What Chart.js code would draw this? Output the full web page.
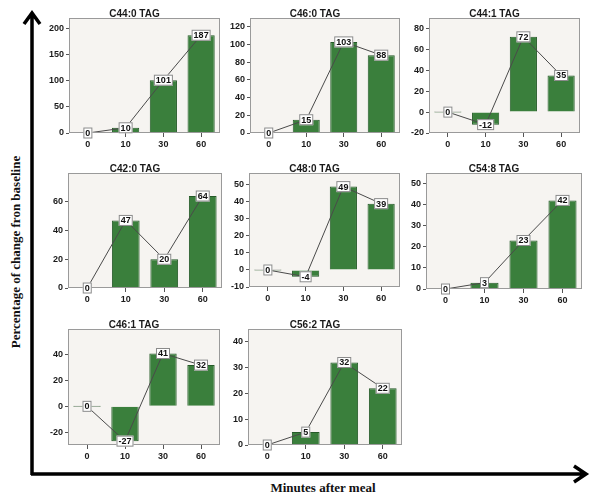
<!DOCTYPE html>
<html>
<head>
<meta charset="utf-8">
<script src="https://cdn.jsdelivr.net/npm/chart.js@4"></script>
<style>
  body { margin: 0; background: #fff; }
  #wrap { position: relative; width: 600px; height: 499px; overflow: hidden; }
  #wrap canvas { position: absolute; }
  #arrows { position: absolute; left: 0; top: 0; }
  .axisTitle { position: absolute; font-family: "Liberation Serif", "DejaVu Serif", serif; font-weight: bold; font-size: 13px; color: #111; white-space: nowrap; }
</style>
</head>
<body>
<div id="wrap">
  <svg id="arrows" width="600" height="499">
    <path d="M32 475 L32 14 M24 24 L32 13 L40 24" fill="none" stroke="#000" stroke-width="3.5" stroke-linejoin="miter"/>
    <path d="M31 474 L585 474 M574 466 L586 474 L574 482" fill="none" stroke="#000" stroke-width="3.5" stroke-linejoin="miter"/>
  </svg>
  <div class="axisTitle" style="left:16px; top:252px; transform: translate(-50%, -50%) rotate(-90deg);">Percentage of change fron baseline</div>
  <div class="axisTitle" style="left:323px; top:488px; transform: translate(-50%, -50%);">Minutes after meal</div>
</div>
<script>
// x categories (minutes after meal)
const categories = ['0', '10', '30', '60'];

// panel titles
const titles = ['C44:0 TAG', 'C46:0 TAG', 'C44:1 TAG', 'C42:0 TAG', 'C48:0 TAG', 'C54:8 TAG', 'C46:1 TAG', 'C56:2 TAG'];

// % change from baseline, one array per TAG species
const c44_0 = [0, 10, 101, 187];
const c46_0 = [0, 15, 103, 88];
const c44_1 = [0, -12, 72, 35];
const c42_0 = [0, 47, 20, 64];
const c48_0 = [0, -4, 49, 39];
const c54_8 = [0, 3, 23, 42];
const c46_1 = [0, -27, 41, 32];
const c56_2 = [0, 5, 32, 22];

// y axis ranges and tick labels per panel
const yMins = [0, 0, -20, 0, -10, 0, -30, 0];
const yMaxs = [220, 130, 90, 80, 57, 55, 60, 45];
const yTicks = [
    [0, 50, 100, 150, 200],
    [0, 20, 40, 60, 80, 100, 120],
    [-20, 0, 20, 40, 60, 80],
    [0, 20, 40, 60],
    [-10, 0, 10, 20, 30, 40, 50],
    [0, 10, 20, 30, 40, 50],
    [-20, 0, 20, 40],
    [0, 10, 20, 30, 40]
];

const series = [c44_0, c46_0, c44_1, c42_0, c48_0, c54_8, c46_1, c56_2];

// plot boxes on the page: left, top, right, bottom
const boxes = [
    [69, 18, 220, 133],
    [250, 18, 400, 133],
    [429, 18, 580, 133],
    [68, 173, 222, 288],
    [249, 173, 400, 287],
    [426, 173, 582, 289],
    [68, 329, 220, 445],
    [248, 329, 402, 445]
];

const GREEN = '#3a7f3c';
const GREEN_EDGE = '#255a28';

// background, frame, title and boxed value labels
const panelDeco = {
    id: 'panelDeco',
    beforeDatasetsDraw(chart) {
        const { ctx, chartArea: a } = chart;
        ctx.save();
        ctx.fillStyle = '#f6f4f1';
        ctx.fillRect(a.left, a.top, a.right - a.left, a.bottom - a.top);
        ctx.restore();
    },
    afterDraw(chart, args, opts) {
        const { ctx, chartArea: a } = chart;
        ctx.save();
        ctx.strokeStyle = '#9a9a9a';
        ctx.lineWidth = 1;
        ctx.strokeRect(a.left + 0.5, a.top + 0.5, a.right - a.left - 1, a.bottom - a.top - 1);

        ctx.fillStyle = '#1a1a1a';
        ctx.font = 'bold 10px "Liberation Sans", Arial, sans-serif';
        ctx.textAlign = 'center';
        ctx.textBaseline = 'alphabetic';
        ctx.fillText(opts.title, (a.left + a.right) / 2 - 10, a.top - 1);

        const meta = chart.getDatasetMeta(1);
        const vals = chart.data.datasets[1].data;
        ctx.font = 'bold 9px "Liberation Sans", Arial, sans-serif';
        ctx.textBaseline = 'middle';
        meta.data.forEach((pt, i) => {
            const txt = String(vals[i]);
            const w = ctx.measureText(txt).width + 4;
            const h = 11;
            ctx.fillStyle = '#ffffff';
            ctx.fillRect(pt.x - w / 2, pt.y - h / 2, w, h);
            ctx.strokeStyle = '#8a8a8a';
            ctx.strokeRect(pt.x - w / 2 + 0.5, pt.y - h / 2 + 0.5, w - 1, h - 1);
            ctx.fillStyle = '#111';
            ctx.fillText(txt, pt.x, pt.y + 0.5);
        });
        ctx.restore();
    }
};

const wrap = document.getElementById('wrap');

series.forEach((values, p) => {
    const [L, T, R, B] = boxes[p];
    const canvas = document.createElement('canvas');
    const cw = R - L + 32, ch = B - T + 38;
    canvas.width = cw;
    canvas.height = ch;
    canvas.style.left = (L - 30) + 'px';
    canvas.style.top = (T - 18) + 'px';
    wrap.appendChild(canvas);

    const tickList = yTicks[p];
    new Chart(canvas.getContext('2d'), {
        type: 'bar',
        data: {
            labels: categories,
            datasets: [{
                type: 'bar',
                data: values,
                order: 1,
                backgroundColor: (c) => c.raw === 0 ? '#8d8d8d' : GREEN,
                borderColor: GREEN_EDGE,
                borderWidth: 1,
                minBarLength: 1,
                barPercentage: 0.72,
                categoryPercentage: 1
            }, {
                type: 'line',
                data: values,
                order: 0,
                borderColor: '#4a4a4a',
                borderWidth: 1,
                pointRadius: 0,
                tension: 0
            }]
        },
        options: {
            responsive: false,
            animation: false,
            devicePixelRatio: 1,
            layout: { padding: { top: 18, right: 2, left: 0, bottom: 0 } },
            plugins: {
                legend: { display: false },
                tooltip: { enabled: false },
                panelDeco: { title: titles[p] }
            },
            scales: {
                x: {
                    offset: true,
                    grid: { drawOnChartArea: false, offset: false, tickLength: 4, color: '#555' },
                    border: { display: false },
                    ticks: {
                        color: '#1a1a1a',
                        padding: 2,
                        font: { family: '"Liberation Sans", Arial, sans-serif', size: 9, weight: 'bold' }
                    },
                    afterFit: (s) => { s.height = 20; }
                },
                y: {
                    min: yMins[p],
                    max: yMaxs[p],
                    grid: { drawOnChartArea: false, tickLength: 3, color: '#555' },
                    border: { display: false },
                    ticks: {
                        color: '#1a1a1a',
                        padding: 2,
                        font: { family: '"Liberation Sans", Arial, sans-serif', size: 9, weight: 'bold' }
                    },
                    afterBuildTicks: (s) => { s.ticks = tickList.map(v => ({ value: v })); },
                    afterFit: (s) => { s.width = 30; }
                }
            }
        },
        plugins: [panelDeco]
    });
});
</script>
</body>
</html>
